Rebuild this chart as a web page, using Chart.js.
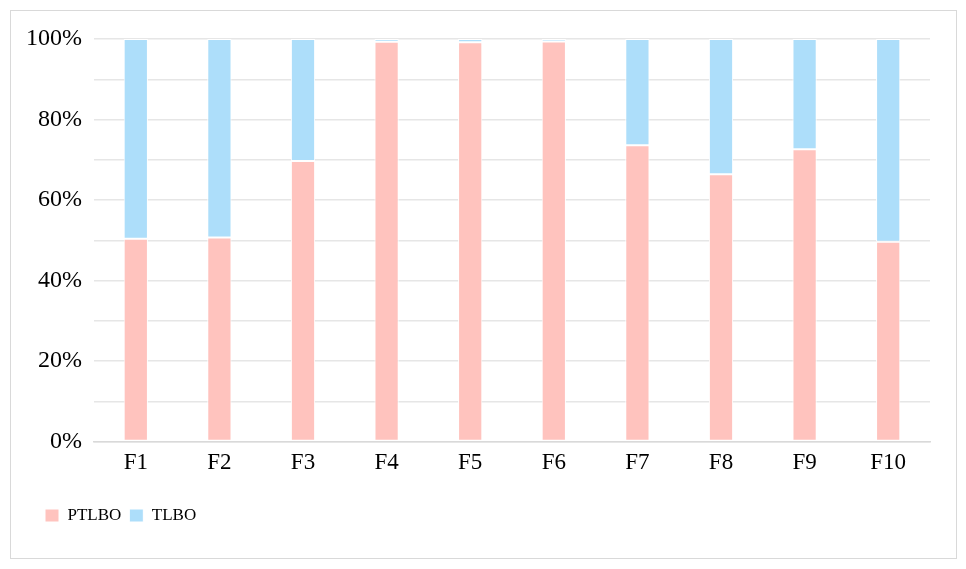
<!DOCTYPE html>
<html>
<head>
<meta charset="utf-8">
<script src="https://cdn.jsdelivr.net/npm/chart.js@4/dist/chart.umd.min.js"></script>
<style>
html,body{margin:0;padding:0;background:#fff;}
#c{display:block;}
</style>
</head>
<body>
<canvas id="c" width="966" height="569"></canvas>
<script>
const categories = ['F1','F2','F3','F4','F5','F6','F7','F8','F9','F10'];
const ptlbo = [50.4, 50.7, 69.7, 99.3, 99.2, 99.4, 73.6, 66.4, 72.6, 49.6];
const tlbo  = [49.6, 49.3, 30.3, 0.7, 0.8, 0.6, 26.4, 33.6, 27.4, 50.4];
const yTickLabels = ['0%','20%','40%','60%','80%','100%'];

const FONT = "'Liberation Serif', 'Times New Roman', serif";

const framePlugin = {
  id: 'frame',
  afterLayout(chart) {
    if (chart.legend) {
      chart.legend.left += 17;
      chart.legend.right += 17;
    }
  },
  beforeDraw(chart) {
    const ctx = chart.ctx;
    ctx.save();
    ctx.fillStyle = '#fff';
    ctx.fillRect(0, 0, chart.width, chart.height);
    ctx.strokeStyle = '#d9d9d9';
    ctx.lineWidth = 1;
    ctx.strokeRect(10.5, 10.5, 946, 548);
    ctx.restore();
  }
};

new Chart(document.getElementById('c'), {
  type: 'bar',
  data: {
    labels: categories,
    datasets: [
      { label: 'PTLBO', data: ptlbo, backgroundColor: '#FFC3BE', borderColor: '#ffffff', borderWidth: 1, borderSkipped: false },
      { label: 'TLBO', data: tlbo, backgroundColor: '#ADDEFA', borderColor: '#ffffff', borderWidth: 1, borderSkipped: false }
    ]
  },
  options: {
    responsive: false,
    animation: false,
    devicePixelRatio: 1,
    layout: { padding: { left: 20, right: 36, top: 39, bottom: 35 } },
    datasets: { bar: { categoryPercentage: 1, barPercentage: 0.29 } },
    plugins: {
      tooltip: { enabled: false },
      legend: {
        position: 'bottom',
        align: 'start',
        labels: {
          boxWidth: 14,
          boxHeight: 13,
          padding: 8,
          color: '#000',
          font: { family: FONT, size: 17 }
        }
      }
    },
    scales: {
      x: {
        stacked: true,
        grid: { display: false, drawTicks: false },
        border: { display: true, color: '#d9d9d9', width: 1.5 },
        ticks: { color: '#000', padding: 8, font: { family: FONT, size: 23 }, maxRotation: 0 },
        afterFit(s) { s.height = 57.5; }
      },
      y: {
        stacked: true,
        min: 0,
        max: 100,
        grid: { color: '#e6e6e6', lineWidth: 1.5, drawTicks: false },
        border: { display: false },
        ticks: {
          stepSize: 10,
          padding: 12,
          color: '#000',
          font: { family: FONT, size: 24 },
          callback(v) {
            if (v % 20 !== 0) return '';
            return yTickLabels[v / 20];
          }
        },
        afterFit(s) { s.width = 74; }
      }
    }
  },
  plugins: [framePlugin]
});
</script>
</body>
</html>
